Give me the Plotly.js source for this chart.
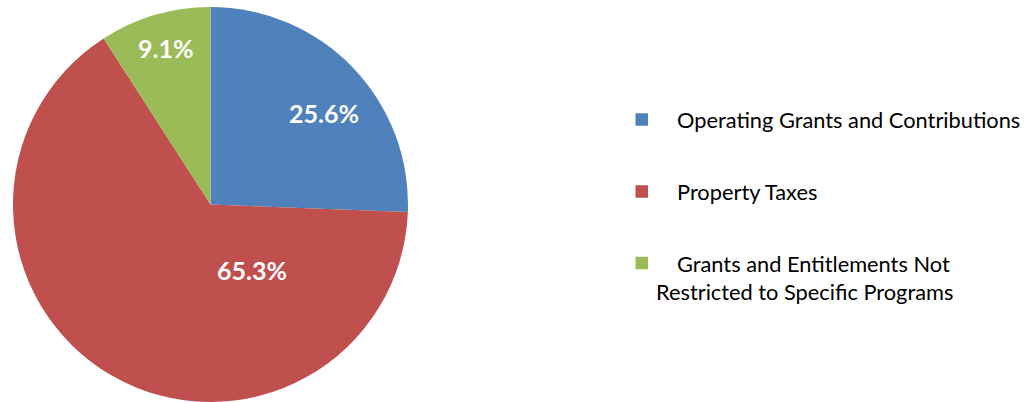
<!DOCTYPE html>
<html>
<head>
<meta charset="utf-8">
<script src="https://cdn.plot.ly/plotly-3.0.1.min.js"></script>
<style>html,body{margin:0;padding:0;background:#fff;}#chart{width:1028px;height:402px;}</style>
</head>
<body>
<div id="chart"></div>
<script>
var categories = ["Operating Grants and Contributions", "Property Taxes", "Grants and Entitlements Not Restricted to Specific Programs"];
var values = [25.6, 65.3, 9.1];
var colors = ["#4F81BD", "#C0504D", "#9BBB59"];
var legendLines = [["Operating Grants and Contributions"], ["Property Taxes"], ["Grants and Entitlements Not", "Restricted to Specific Programs"]];

var W = 1028, H = 402, TOP = 7;
function py(y) { return 1 - (y - TOP) / (H - TOP); }

var trace = {
  type: "pie",
  labels: categories,
  values: values,
  sort: false,
  direction: "clockwise",
  rotation: 0,
  marker: {colors: colors, line: {width: 0}},
  textinfo: "none",
  hoverinfo: "none",
  domain: {x: [12.5 / W, 408.5 / W], y: [0, 1]},
  showlegend: false
};

var annotations = [];
// data labels, placed where the original chart put them
var labelPos = [[324, 113], [252, 270], [165, 48]];
var labelFont = {family: "Lato, 'Open Sans', sans-serif", size: 25, color: "#FFFFFF"};
for (var k = 0; k < values.length; k++) {
  annotations.push({xref: "paper", yref: "paper", x: labelPos[k][0] / W, y: py(labelPos[k][1]), text: "<b>" + values[k].toFixed(1) + "%</b>", showarrow: false, xanchor: "center", yanchor: "middle", font: labelFont});
}

var shapes = [];
var legendY = [119.5, 191.5, 263];
var legendFont = {family: "Lato, 'Open Sans', sans-serif", size: 21.8, color: "#000000"};
for (var i = 0; i < categories.length; i++) {
  var cy = legendY[i];
  shapes.push({type: "rect", xref: "paper", yref: "paper", x0: 635.5 / W, x1: 648 / W, y0: py(cy - 6.25), y1: py(cy + 6.25), fillcolor: colors[i], line: {width: 0}});
  var lines = legendLines[i];
  var xs = [675, 654];
  for (var j = 0; j < lines.length; j++) {
    annotations.push({xref: "paper", yref: "paper", x: xs[j] / W, y: py(cy + j * 28), text: lines[j], showarrow: false, xanchor: "left", yanchor: "middle", font: legendFont});
  }
}

var layout = {
  width: W, height: H,
  margin: {l: 0, r: 0, t: TOP, b: 0},
  paper_bgcolor: "#FFFFFF",
  plot_bgcolor: "#FFFFFF",
  showlegend: false,
  annotations: annotations,
  shapes: shapes
};
Plotly.newPlot("chart", [trace], layout, {displayModeBar: false, staticPlot: true});
</script>
</body>
</html>
